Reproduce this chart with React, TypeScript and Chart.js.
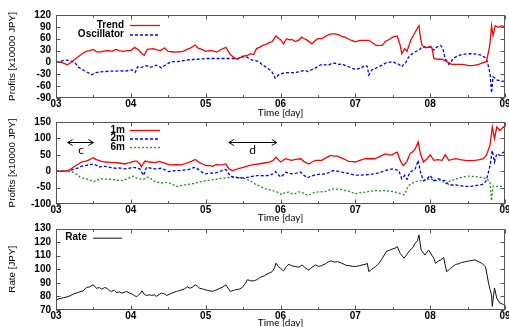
import React, { useEffect, useRef } from "react";
import { Chart, registerables } from "chart.js";

Chart.register(...registerables);

type Pt = [number, number];

// ---------- data (time in days, value) ----------
const xTickLabels = ["03", "04", "05", "06", "07", "08", "09"];

const trend: Pt[] = [
  [3.0, 0], [3.05, 1], [3.1, -2], [3.15, -6], [3.2, 0], [3.25, 8], [3.3, 15], [3.35, 22], [3.4, 28], [3.45, 30],
  [3.5, 33], [3.55, 26], [3.6, 27], [3.65, 29], [3.7, 30], [3.75, 28], [3.8, 33], [3.85, 30], [3.9, 28], [3.95, 30],
  [4.0, 30], [4.05, 38], [4.1, 32], [4.15, 22], [4.18, 18], [4.22, 33], [4.3, 35], [4.35, 32], [4.4, 30], [4.45, 37],
  [4.5, 28], [4.55, 27], [4.6, 26], [4.65, 27], [4.7, 28], [4.75, 33], [4.8, 37], [4.86, 44], [4.9, 36], [4.95, 33],
  [5.0, 28], [5.05, 30], [5.1, 29], [5.15, 26], [5.2, 32], [5.27, 38], [5.33, 20], [5.38, 12], [5.42, 8], [5.46, 12],
  [5.5, 16], [5.56, 18], [5.6, 22], [5.64, 20], [5.68, 35], [5.72, 38], [5.76, 43], [5.8, 45], [5.85, 50], [5.89, 53],
  [5.94, 67], [5.98, 60], [6.0, 58], [6.04, 47], [6.08, 60], [6.12, 57], [6.15, 58], [6.2, 53], [6.25, 57], [6.28, 64],
  [6.32, 60], [6.35, 57], [6.42, 47], [6.46, 55], [6.5, 60], [6.55, 60], [6.6, 66], [6.64, 70], [6.68, 72], [6.73, 72],
  [6.78, 70], [6.82, 66], [6.86, 64], [6.92, 58], [6.96, 55], [7.0, 52], [7.05, 55], [7.1, 56], [7.18, 56], [7.23, 50],
  [7.28, 43], [7.36, 43], [7.4, 53], [7.45, 58], [7.5, 64], [7.56, 67], [7.6, 43], [7.62, 22], [7.66, 35], [7.69, 28],
  [7.74, 56], [7.8, 77], [7.85, 93], [7.87, 64], [7.89, 43], [7.94, 37], [7.98, 39], [8.02, 39], [8.05, 10], [8.1, 8],
  [8.16, 8], [8.22, 2], [8.29, -5], [8.35, -5], [8.42, -5], [8.47, -6], [8.52, -8], [8.56, -8], [8.6, -7], [8.65, -5],
  [8.69, -2], [8.75, 2], [8.78, 27], [8.8, 48], [8.82, 93], [8.84, 68], [8.87, 93], [8.91, 89], [8.96, 93], [9.0, 89],
];

const oscillator: Pt[] = [
  [3.0, 0], [3.05, 2], [3.1, 5], [3.15, 6], [3.2, 3], [3.25, 0], [3.3, -12], [3.35, -18], [3.4, -23], [3.45, -28],
  [3.48, -31], [3.52, -26], [3.56, -25], [3.6, -24], [3.66, -23], [3.72, -22], [3.79, -22], [3.85, -21], [3.92, -22], [3.98, -20],
  [4.02, -19], [4.06, -25], [4.09, -11], [4.14, -13], [4.18, -9], [4.21, -8], [4.25, -12], [4.28, -11], [4.34, -7], [4.38, -10],
  [4.41, -14], [4.45, -8], [4.48, -5], [4.52, 0], [4.55, 2], [4.63, 2], [4.68, 4], [4.72, 5], [4.78, 7], [4.81, 6],
  [4.85, 8], [4.9, 8], [4.95, 9], [5.0, 10], [5.1, 10], [5.2, 10], [5.3, 10], [5.4, 10], [5.45, 11], [5.5, 14],
  [5.54, 15], [5.58, 10], [5.62, 6], [5.66, 5], [5.71, 2], [5.75, -5], [5.8, -11], [5.85, -18], [5.89, -25], [5.93, -40],
  [5.97, -32], [6.02, -28], [6.07, -26], [6.12, -26], [6.19, -26], [6.24, -24], [6.28, -22], [6.33, -20], [6.37, -23], [6.42, -18],
  [6.46, -15], [6.5, -10], [6.55, -5], [6.6, -6], [6.64, -7], [6.68, -3], [6.73, -2], [6.78, -5], [6.82, -4], [6.87, -8],
  [6.91, -11], [6.96, -15], [7.0, -18], [7.05, -15], [7.09, -13], [7.13, -7], [7.16, -10], [7.18, -32], [7.22, -19], [7.27, -15],
  [7.31, -11], [7.36, -7], [7.4, -2], [7.45, 0], [7.49, 2], [7.53, -1], [7.56, -2], [7.6, -8], [7.62, -11], [7.65, -4],
  [7.67, -2], [7.7, 10], [7.73, 18], [7.8, 27], [7.85, 31], [7.89, 39], [7.95, 39], [8.0, 39], [8.05, 31], [8.09, 39],
  [8.14, 43], [8.17, 35], [8.2, 10], [8.25, -5], [8.28, 2], [8.31, 10], [8.36, 16], [8.42, 20], [8.5, 22], [8.56, 22],
  [8.62, 21], [8.69, 18], [8.75, 10], [8.78, -11], [8.8, -27], [8.82, -77], [8.84, -36], [8.87, -40], [8.89, -44], [8.93, -46],
  [8.96, -48], [9.0, -47],
];

const oneMonth: Pt[] = [
  [3.0, 0], [3.1, 0], [3.15, 2], [3.19, 5], [3.25, 15], [3.3, 22], [3.34, 28], [3.38, 30], [3.43, 33], [3.47, 38],
  [3.5, 41], [3.53, 36], [3.57, 33], [3.61, 30], [3.66, 28], [3.72, 27], [3.79, 26], [3.85, 25], [3.92, 22], [3.97, 25],
  [4.01, 28], [4.05, 31], [4.08, 31], [4.12, 22], [4.14, 14], [4.17, 25], [4.19, 31], [4.25, 28], [4.33, 26], [4.38, 30],
  [4.41, 28], [4.46, 24], [4.52, 19], [4.6, 20], [4.68, 19], [4.75, 25], [4.81, 30], [4.86, 36], [4.92, 26], [4.96, 22],
  [5.0, 17], [5.05, 18], [5.09, 15], [5.14, 20], [5.18, 19], [5.23, 20], [5.27, 22], [5.31, 7], [5.36, 2], [5.4, 5],
  [5.45, 9], [5.5, 12], [5.58, 17], [5.64, 20], [5.71, 22], [5.78, 25], [5.85, 28], [5.9, 32], [5.94, 43], [5.98, 33],
  [6.0, 28], [6.04, 34], [6.07, 38], [6.11, 35], [6.15, 33], [6.2, 36], [6.27, 38], [6.31, 30], [6.34, 26], [6.38, 22],
  [6.42, 28], [6.47, 33], [6.55, 33], [6.6, 40], [6.67, 48], [6.72, 46], [6.76, 46], [6.82, 40], [6.87, 35], [6.91, 30],
  [6.96, 29], [7.0, 28], [7.06, 33], [7.13, 38], [7.2, 38], [7.26, 38], [7.33, 45], [7.4, 53], [7.45, 50], [7.49, 50],
  [7.53, 55], [7.56, 58], [7.6, 33], [7.64, 17], [7.69, 30], [7.73, 53], [7.77, 60], [7.8, 68], [7.84, 89], [7.87, 53],
  [7.91, 28], [7.96, 38], [8.0, 50], [8.05, 33], [8.1, 35], [8.16, 33], [8.2, 50], [8.25, 33], [8.3, 36], [8.34, 38],
  [8.4, 35], [8.47, 33], [8.53, 32], [8.6, 33], [8.66, 35], [8.71, 38], [8.75, 48], [8.8, 79], [8.83, 135], [8.86, 99],
  [8.89, 135], [8.93, 124], [8.96, 130], [8.98, 135], [9.0, 132],
];

const twoMonth: Pt[] = [
  [3.0, 0], [3.1, 0], [3.19, 2], [3.25, 7], [3.3, 10], [3.34, 15], [3.43, 19], [3.5, 22], [3.54, 18], [3.57, 12],
  [3.62, 15], [3.66, 15], [3.72, 12], [3.79, 9], [3.85, 10], [3.92, 7], [3.98, 9], [4.03, 12], [4.08, 10], [4.12, 7],
  [4.17, -13], [4.21, 12], [4.27, 9], [4.33, 7], [4.41, 9], [4.45, 5], [4.5, -1], [4.57, 1], [4.63, 2], [4.7, 3],
  [4.77, 5], [4.82, 9], [4.86, 12], [4.91, 4], [4.95, -3], [5.0, -8], [5.06, -6], [5.13, -5], [5.2, 0], [5.27, 5],
  [5.33, -15], [5.38, -18], [5.45, -21], [5.52, -20], [5.58, -18], [5.64, -15], [5.71, -13], [5.78, -14], [5.85, -13], [5.9, -8],
  [5.93, -1], [5.97, -10], [6.0, -18], [6.04, -10], [6.07, -3], [6.11, -6], [6.15, -8], [6.21, -6], [6.27, -3], [6.31, -12],
  [6.36, -20], [6.41, -15], [6.47, -11], [6.53, -9], [6.6, -8], [6.66, -3], [6.71, 2], [6.76, 0], [6.82, -3], [6.88, -5],
  [6.93, -8], [7.0, -12], [7.06, -12], [7.13, -11], [7.2, -10], [7.26, -8], [7.33, -4], [7.4, 2], [7.45, 5], [7.51, 7],
  [7.55, 4], [7.58, 2], [7.62, -23], [7.66, -13], [7.69, -25], [7.73, -3], [7.77, 2], [7.8, 7], [7.84, 33], [7.87, -3],
  [7.91, -29], [7.96, -23], [8.0, -13], [8.05, -29], [8.11, -23], [8.15, -26], [8.2, -29], [8.25, -42], [8.34, -42], [8.4, -44],
  [8.47, -46], [8.55, -46], [8.6, -44], [8.66, -42], [8.71, -39], [8.75, -29], [8.8, 17], [8.83, 63], [8.86, 28], [8.89, 53],
  [8.93, 48], [8.96, 55], [8.98, 58], [9.0, 56],
];

const sixMonth: Pt[] = [
  [3.0, 0], [3.1, 0], [3.19, -1], [3.23, -3], [3.28, -10], [3.32, -18], [3.38, -22], [3.43, -25], [3.47, -29], [3.5, -32],
  [3.55, -27], [3.61, -23], [3.67, -24], [3.74, -25], [3.8, -27], [3.88, -29], [3.93, -25], [3.97, -21], [4.03, -15], [4.07, -20],
  [4.1, -23], [4.17, -25], [4.23, -18], [4.28, -25], [4.32, -32], [4.37, -34], [4.41, -36], [4.5, -34], [4.55, -40], [4.61, -46],
  [4.67, -44], [4.72, -42], [4.77, -40], [4.81, -39], [4.86, -36], [4.9, -34], [4.95, -31], [5.0, -29], [5.07, -27], [5.13, -25],
  [5.2, -22], [5.27, -20], [5.33, -19], [5.4, -18], [5.47, -20], [5.53, -23], [5.6, -30], [5.66, -39], [5.73, -46], [5.8, -54],
  [5.89, -59], [5.96, -64], [6.02, -72], [6.06, -65], [6.11, -64], [6.15, -68], [6.19, -69], [6.24, -63], [6.28, -64], [6.33, -70],
  [6.37, -74], [6.42, -68], [6.46, -64], [6.53, -63], [6.6, -62], [6.66, -57], [6.71, -54], [6.77, -55], [6.82, -56], [6.88, -60],
  [6.93, -62], [7.0, -69], [7.06, -66], [7.13, -64], [7.2, -61], [7.26, -59], [7.33, -60], [7.4, -59], [7.47, -61], [7.54, -64],
  [7.6, -68], [7.62, -69], [7.65, -72], [7.67, -64], [7.71, -44], [7.78, -34], [7.85, -29], [7.91, -29], [7.96, -26], [8.0, -23],
  [8.07, -29], [8.12, -27], [8.16, -29], [8.2, -39], [8.23, -35], [8.27, -29], [8.33, -25], [8.38, -21], [8.45, -17], [8.51, -15],
  [8.58, -16], [8.65, -18], [8.71, -20], [8.76, -23], [8.8, -34], [8.82, -90], [8.84, -46], [8.88, -46], [8.94, -46], [9.0, -46],
];

const rate: Pt[] = [
  [3.0, 77], [3.04, 78.3], [3.1, 79], [3.17, 80], [3.23, 81.7], [3.3, 83], [3.36, 84.1], [3.41, 86.6], [3.45, 87], [3.48, 88.1],
  [3.5, 88.5], [3.54, 86], [3.58, 86.5], [3.61, 85.3], [3.65, 86.5], [3.68, 86], [3.72, 84], [3.74, 83.7], [3.78, 84.5], [3.81, 82.9],
  [3.85, 83.3], [3.88, 82.4], [3.91, 83], [3.94, 83.7], [3.98, 82.5], [4.01, 82], [4.05, 80.5], [4.08, 79.8], [4.12, 82], [4.15, 84.1],
  [4.18, 81.5], [4.21, 80.7], [4.25, 81.2], [4.28, 80.7], [4.31, 81.3], [4.34, 80], [4.38, 81.5], [4.41, 82.5], [4.45, 81.8], [4.48, 80.7],
  [4.52, 81.7], [4.55, 82.5], [4.61, 83.7], [4.65, 84.3], [4.68, 84.9], [4.72, 85.5], [4.75, 87.2], [4.79, 86], [4.83, 87], [4.86, 88.5],
  [4.89, 87.5], [4.92, 86], [4.96, 85.5], [4.99, 84.9], [5.03, 84.4], [5.09, 83.7], [5.13, 84.5], [5.18, 85.7], [5.23, 87], [5.27, 88.5],
  [5.3, 86], [5.33, 83.7], [5.37, 84.4], [5.4, 84.9], [5.45, 85.4], [5.49, 86.6], [5.53, 89.5], [5.56, 92.3], [5.6, 91.5], [5.65, 91.5],
  [5.69, 92.5], [5.73, 94], [5.78, 95.1], [5.82, 96.4], [5.86, 97.4], [5.89, 98.4], [5.92, 101], [5.94, 104.5], [5.97, 102], [6.0, 100.7],
  [6.04, 98.8], [6.08, 102], [6.11, 103.7], [6.15, 102.5], [6.2, 102], [6.25, 101.5], [6.29, 103.2], [6.33, 101], [6.38, 99.3], [6.42, 101.5],
  [6.47, 103.2], [6.51, 102], [6.55, 102.7], [6.6, 104], [6.64, 105.5], [6.67, 106.2], [6.72, 105.3], [6.76, 105.6], [6.82, 104.5], [6.87, 103],
  [6.91, 102.7], [6.96, 102.2], [7.0, 102], [7.05, 102.5], [7.09, 103.2], [7.13, 103.5], [7.16, 104.4], [7.18, 98.2], [7.22, 100], [7.27, 102],
  [7.31, 104], [7.36, 108.1], [7.42, 113.4], [7.46, 114], [7.49, 114.8], [7.53, 115.5], [7.56, 116.6], [7.6, 111.6], [7.65, 108.1], [7.69, 111],
  [7.73, 114.1], [7.77, 116], [7.8, 119.2], [7.83, 121], [7.85, 125.3], [7.88, 114.1], [7.93, 110.5], [7.98, 114.1], [8.02, 110.5], [8.05, 108],
  [8.07, 104.4], [8.11, 106], [8.14, 106.8], [8.18, 108.6], [8.22, 98.2], [8.27, 100.5], [8.3, 102], [8.34, 103.6], [8.38, 104], [8.42, 105],
  [8.47, 105.5], [8.51, 106], [8.56, 106.5], [8.6, 106.8], [8.65, 105.5], [8.69, 104.4], [8.74, 101.8], [8.78, 89.8], [8.8, 85], [8.82, 81.2],
  [8.83, 72.7], [8.86, 86.2], [8.89, 78.7], [8.93, 75.1], [8.96, 74.5], [8.98, 74], [9.0, 74.5],
];

// annotation arrows in panel 2 (data coordinates)
const arrowNotes = [
  { label: "c", from: 3.156, to: 3.5, y: 88, labelX: 3.334, labelY: 64 },
  { label: "d", from: 5.31, to: 5.95, y: 88, labelX: 5.626, labelY: 64 },
];

// ---------- styling ----------
const SANS = "'Liberation Sans', Arial, sans-serif";
const HUMAN = "Lato, 'Open Sans', sans-serif";
const RED = "#ff0000";
const BLUE = "#0000ff";
const GREEN = "#1e8c1e";
const BLACK = "#111111";

type Series = { label: string; pts: Pt[]; color: string; dash: number[]; width: number };

type PanelSpec = {
  top: number;
  height: number;
  padTop: number;
  xAxisH: number;
  xTitlePad: number;
  yMin: number;
  yMax: number;
  yStep: number;
  yTitle: string;
  series: Series[];
  legendTextRight: number;
  legendLineStart: number;
  legendLineEnd: number;
  legendY: number[];
  arrows?: typeof arrowNotes;
};

function decoPlugin(spec: PanelSpec) {
  return {
    id: "deco",
    afterDatasetsDraw(chart: any) {
      const { ctx, chartArea: a, scales } = chart;
      const xs = scales.x;
      const ys = scales.y;
      ctx.save();
      ctx.setLineDash([]);
      ctx.strokeStyle = "#555555";
      ctx.lineWidth = 1;
      const L = Math.round(a.left) + 0.5;
      const R = Math.round(a.right) - 0.5;
      const T = Math.round(a.top) + 0.5;
      const B = Math.round(a.bottom) - 0.5;
      ctx.strokeRect(L, T, R - L, B - T);
      ctx.beginPath();
      for (let k = 0; k < xTickLabels.length * 2 - 1; k++) {
        const t = 3 + k * 0.5;
        const px = Math.round(xs.getPixelForValue(t)) + 0.5;
        const len = k % 2 === 0 ? 4 : 2.5;
        ctx.moveTo(px, B);
        ctx.lineTo(px, B - len);
        ctx.moveTo(px, T);
        ctx.lineTo(px, T + len);
      }
      for (const tk of ys.ticks) {
        const py = Math.round(ys.getPixelForValue(tk.value)) + 0.5;
        ctx.moveTo(L, py);
        ctx.lineTo(L + 4, py);
        ctx.moveTo(R, py);
        ctx.lineTo(R - 4, py);
      }
      ctx.stroke();

      // legend
      ctx.font = `bold 10px ${SANS}`;
      ctx.textAlign = "right";
      ctx.textBaseline = "middle";
      spec.series.forEach((s, i) => {
        const y = spec.legendY[i];
        ctx.fillStyle = "#000";
        ctx.fillText(s.label, spec.legendTextRight, y);
        ctx.beginPath();
        ctx.setLineDash(s.dash);
        ctx.strokeStyle = s.color;
        ctx.lineWidth = s.width;
        ctx.moveTo(spec.legendLineStart, y + 0.5);
        ctx.lineTo(spec.legendLineEnd, y + 0.5);
        ctx.stroke();
      });
      ctx.setLineDash([]);

      // arrows
      if (spec.arrows) {
        ctx.strokeStyle = "#000";
        ctx.fillStyle = "#000";
        ctx.lineWidth = 1;
        for (const ar of spec.arrows) {
          const x1 = xs.getPixelForValue(ar.from);
          const x2 = xs.getPixelForValue(ar.to);
          const y = Math.round(ys.getPixelForValue(ar.y)) + 0.5;
          ctx.beginPath();
          ctx.moveTo(x1, y);
          ctx.lineTo(x2, y);
          ctx.moveTo(x1 + 5, y - 3);
          ctx.lineTo(x1, y);
          ctx.lineTo(x1 + 5, y + 3);
          ctx.moveTo(x2 - 5, y - 3);
          ctx.lineTo(x2, y);
          ctx.lineTo(x2 - 5, y + 3);
          ctx.stroke();
          ctx.font = `12px ${HUMAN}`;
          ctx.textAlign = "center";
          ctx.textBaseline = "middle";
          ctx.fillText(ar.label, xs.getPixelForValue(ar.labelX), ys.getPixelForValue(ar.labelY));
        }
      }
      ctx.restore();
    },
  };
}

function buildConfig(spec: PanelSpec): any {
  return {
    type: "line",
    data: {
      datasets: spec.series.map((s) => ({
        label: s.label,
        data: s.pts.map(([x, y]) => ({ x, y })),
        borderColor: s.color,
        borderWidth: s.width,
        borderDash: s.dash,
        pointRadius: 0,
        fill: false,
        tension: 0,
      })),
    },
    options: {
      animation: false,
      responsive: false,
      devicePixelRatio: 1,
      events: [],
      layout: { padding: { top: spec.padTop, right: 4, left: 0, bottom: 0 } },
      plugins: { legend: { display: false }, tooltip: { enabled: false }, title: { display: false } },
      scales: {
        x: {
          type: "linear",
          min: 3,
          max: 9,
          afterFit: (s: any) => {
            s.height = spec.xAxisH;
            s.paddingLeft = 0;
            s.paddingRight = 0;
          },
          grid: { display: false, drawTicks: false },
          border: { display: false },
          ticks: {
            stepSize: 1,
            autoSkip: false,
            maxRotation: 0,
            padding: 0,
            color: "#000",
            font: { family: SANS, size: 10, weight: "bold" },
            callback: (v: any) => xTickLabels[Math.round(Number(v)) - 3] ?? "",
          },
          title: {
            display: true,
            text: "Time [day]",
            color: "#000",
            font: { family: HUMAN, size: 10 },
            padding: { top: 0, bottom: spec.xTitlePad },
          },
        },
        y: {
          type: "linear",
          min: spec.yMin,
          max: spec.yMax,
          afterFit: (s: any) => {
            s.width = 56;
            s.paddingTop = 0;
            s.paddingBottom = 0;
          },
          grid: { display: false, drawTicks: false },
          border: { display: false },
          ticks: {
            stepSize: spec.yStep,
            autoSkip: false,
            padding: 5,
            color: "#000",
            font: { family: SANS, size: 10, weight: "bold" },
          },
          title: {
            display: true,
            text: spec.yTitle,
            color: "#000",
            font: { family: SANS, size: 9.8 },
            padding: { top: 6.9, bottom: 0 },
          },
        },
      },
    },
    plugins: [decoPlugin(spec)],
  };
}

const panels: PanelSpec[] = [
  {
    top: 0,
    height: 120,
    padTop: 15,
    xAxisH: 22,
    xTitlePad: 1.3,
    yMin: -90,
    yMax: 120,
    yStep: 30,
    yTitle: "Profits [x10000 JPY]",
    series: [
      { label: "Trend", pts: trend, color: RED, dash: [], width: 1.3 },
      { label: "Oscillator", pts: oscillator, color: BLUE, dash: [3, 2], width: 1.3 },
    ],
    legendTextRight: 124,
    legendLineStart: 130,
    legendLineEnd: 160,
    legendY: [25, 34.5],
  },
  {
    top: 108,
    height: 117,
    padTop: 14,
    xAxisH: 21,
    xTitlePad: 1.3,
    yMin: -100,
    yMax: 150,
    yStep: 50,
    yTitle: "Profits [x10000 JPY]",
    series: [
      { label: "1m", pts: oneMonth, color: RED, dash: [], width: 1.3 },
      { label: "2m", pts: twoMonth, color: BLUE, dash: [3, 2], width: 1.3 },
      { label: "6m", pts: sixMonth, color: GREEN, dash: [2, 2], width: 1.3 },
    ],
    legendTextRight: 125,
    legendLineStart: 130,
    legendLineEnd: 160,
    legendY: [22, 30.5, 39],
    arrows: arrowNotes,
  },
  {
    top: 213,
    height: 122,
    padTop: 15.5,
    xAxisH: 25,
    xTitlePad: 5.8,
    yMin: 70,
    yMax: 130,
    yStep: 10,
    yTitle: "Rate [JPY]",
    series: [{ label: "Rate", pts: rate, color: BLACK, dash: [], width: 1 }],
    legendTextRight: 87,
    legendLineStart: 93,
    legendLineEnd: 122,
    legendY: [24.7],
  },
];

function Panel({ spec }: { spec: PanelSpec }) {
  const ref = useRef<HTMLCanvasElement | null>(null);
  useEffect(() => {
    if (!ref.current) return;
    const chart = new Chart(ref.current, buildConfig(spec));
    return () => chart.destroy();
  }, [spec]);
  return (
    <canvas
      ref={ref}
      width={509}
      height={spec.height}
      style={{ position: "absolute", left: 0, top: spec.top, width: 509, height: spec.height, display: "block" }}
    />
  );
}

export default function App() {
  return (
    <div
      style={{
        position: "fixed",
        left: 0,
        top: 0,
        width: 509,
        height: 327,
        overflow: "hidden",
        background: "#ffffff",
      }}
    >
      {panels.map((p, i) => (
        <Panel key={i} spec={p} />
      ))}
    </div>
  );
}
